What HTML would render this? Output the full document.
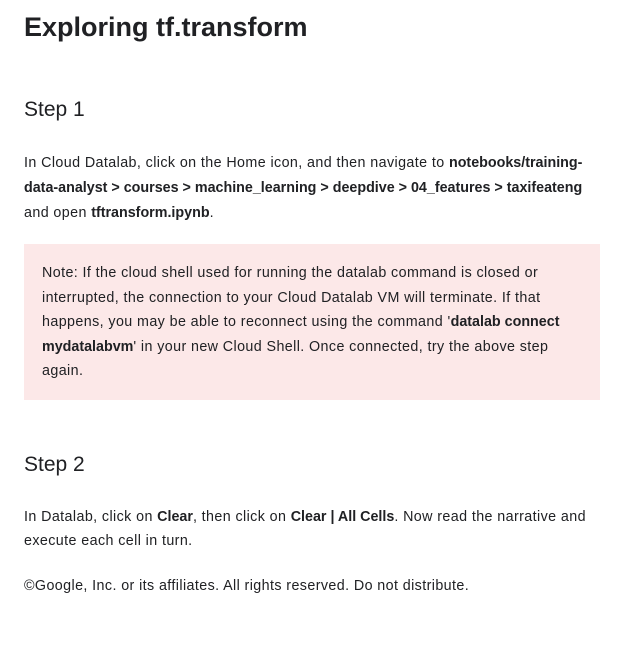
<!DOCTYPE html>
<html><head><style>
body{margin:0;background:#fff;font-family:"Liberation Sans",sans-serif;color:#202124;width:626px;height:656px;overflow:hidden;position:relative}
h1{position:absolute;left:24px;top:12px;margin:0;font-size:27px;font-weight:bold;color:#202124}
h2{position:absolute;left:24px;margin:0;font-size:21px;font-weight:normal}
p{position:absolute;left:24px;margin:0;font-size:14.3px;line-height:25px;white-space:nowrap;letter-spacing:0.4px}
b{letter-spacing:0}
.note{position:absolute;left:24px;top:244px;width:576px;height:156px;background:#fce8e8}
.note p{left:18px;top:17px;line-height:24.5px}
</style></head><body>
<h1>Exploring tf.transform</h1>
<h2 style="top:98px">Step 1</h2>
<p style="top:151px">In Cloud Datalab, click on the Home icon, and then navigate to <b>notebooks/training-</b><br><b>data-analyst &gt; courses &gt; machine_learning &gt; deepdive &gt; 04_features &gt; taxifeateng</b><br>and open <b>tftransform.ipynb</b>.</p>
<div class="note"><p>Note: If the cloud shell used for running the datalab command is closed or<br>interrupted, the connection to your Cloud Datalab VM will terminate. If that<br>happens, you may be able to reconnect using the command '<b>datalab connect</b><br><b>mydatalabvm</b>' in your new Cloud Shell. Once connected, try the above step<br>again.</p></div>
<h2 style="top:453px">Step 2</h2>
<p style="top:505px;line-height:24px">In Datalab, click on <b>Clear</b>, then click on <b>Clear | All Cells</b>. Now read the narrative and<br>execute each cell in turn.</p>
<p style="top:574px">©Google, Inc. or its affiliates. All rights reserved. Do not distribute.</p>
</body></html>
